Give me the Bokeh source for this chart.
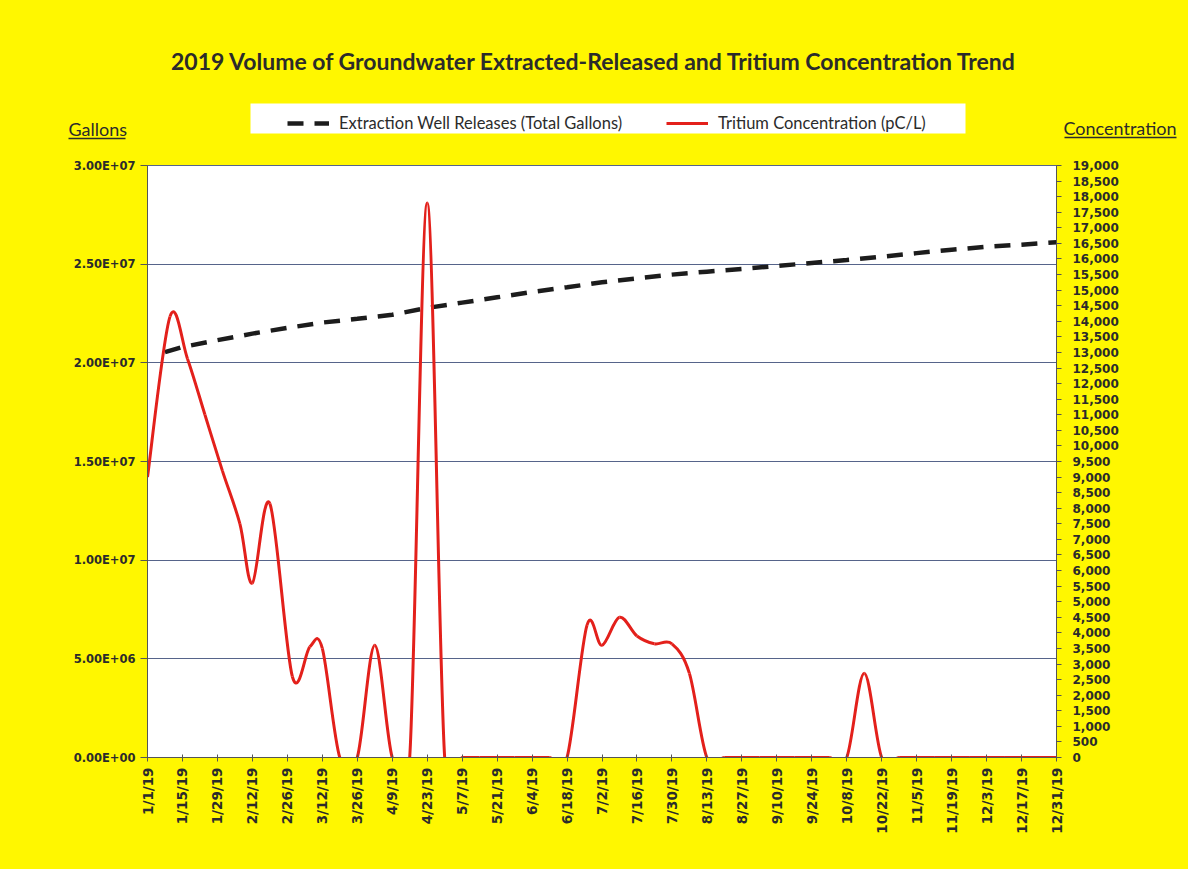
import math
import pandas as pd
from bokeh.plotting import figure
from bokeh.layouts import column
from bokeh.models import (Range1d, LinearAxis, FixedTicker, Legend, LegendItem,
                          ColumnDataSource, NumeralTickFormatter)
from bokeh.core.properties import value
from bokeh.embed import file_html
from bokeh.resources import INLINE

# ---------------- data ----------------
title_text = "2019 Volume of Groundwater Extracted-Released and Tritium Concentration Trend"
release_label = "Extraction Well Releases (Total Gallons)"
tritium_label = "Tritium Concentration (pC/L)"
left_axis_title = "Gallons"
right_axis_title = "Concentration"

release_dates = ["2019-01-08", "2019-01-15", "2019-01-29", "2019-02-12", "2019-02-26", "2019-03-12",
                 "2019-03-26", "2019-04-09", "2019-04-23", "2019-05-07", "2019-05-21", "2019-06-04",
                 "2019-06-18", "2019-07-02", "2019-07-16", "2019-07-30", "2019-08-13", "2019-08-27",
                 "2019-09-10", "2019-09-24", "2019-10-08", "2019-10-22", "2019-11-05", "2019-11-19",
                 "2019-12-03", "2019-12-17", "2019-12-31"]
release_gallons = [20.54e6, 20.80e6, 21.15e6, 21.48e6, 21.77e6, 22.04e6,
                   22.23e6, 22.44e6, 22.78e6, 23.05e6, 23.32e6, 23.59e6,
                   23.83e6, 24.08e6, 24.28e6, 24.47e6, 24.62e6, 24.76e6,
                   24.91e6, 25.06e6, 25.21e6, 25.38e6, 25.56e6, 25.73e6,
                   25.88e6, 25.99e6, 26.11e6]

tritium_dates = ["2019-01-01", "2019-01-10", "2019-01-17", "2019-01-24", "2019-01-31", "2019-02-07",
                 "2019-02-12", "2019-02-19", "2019-02-28", "2019-03-07", "2019-03-12", "2019-03-19",
                 "2019-03-26", "2019-04-02", "2019-04-09", "2019-04-16", "2019-04-23", "2019-04-30",
                 "2019-05-07", "2019-05-14", "2019-05-21", "2019-05-28", "2019-06-04", "2019-06-11",
                 "2019-06-18", "2019-06-26", "2019-07-02", "2019-07-09", "2019-07-16", "2019-07-23",
                 "2019-07-30", "2019-08-06", "2019-08-13", "2019-08-20", "2019-08-27", "2019-09-03",
                 "2019-09-10", "2019-09-17", "2019-09-24", "2019-10-01", "2019-10-08", "2019-10-15",
                 "2019-10-22", "2019-10-29", "2019-11-05", "2019-11-12", "2019-11-19", "2019-11-26",
                 "2019-12-03", "2019-12-10", "2019-12-17", "2019-12-24", "2019-12-31"]
tritium_pcl = [9000, 14150, 12800, 11000, 9200, 7500,
               5600, 8150, 2600, 3550, 3500, 0,
               0, 3600, 0, 0, 17800, 0,
               0, 0, 0, 0, 0, 0,
               0, 4250, 3600, 4500, 3900, 3650,
               3650, 2700, 0, 0, 0, 0,
               0, 0, 0, 0, 0, 2700,
               0, 0, 0, 0, 0, 0,
               0, 0, 0, 0, 0]

x_tick_labels = ["1/1/19", "1/15/19", "1/29/19", "2/12/19", "2/26/19", "3/12/19", "3/26/19",
                 "4/9/19", "4/23/19", "5/7/19", "5/21/19", "6/4/19", "6/18/19", "7/2/19",
                 "7/16/19", "7/30/19", "8/13/19", "8/27/19", "9/10/19", "9/24/19", "10/8/19",
                 "10/22/19", "11/5/19", "11/19/19", "12/3/19", "12/17/19", "12/31/19"]
gallon_ticks = [0, 5e6, 10e6, 15e6, 20e6, 25e6, 30e6]
conc_ticks = list(range(0, 19001, 500))

# ---------------- helpers ----------------
start = pd.Timestamp("2019-01-01")
def to_days(ds, fmt=None):
    return [int((pd.to_datetime(d, format=fmt) - start).days) for d in ds]

rel_x = to_days(release_dates)
tri_x = to_days(tritium_dates)
tick_x = to_days(x_tick_labels, "%m/%d/%y")

# smoothed line (spreadsheet-style "smoothed line") drawn with Bokeh bezier segments
n = len(tri_x)
def P(i):
    i = max(0, min(n - 1, i))
    return tri_x[i], tritium_pcl[i]
seg = dict(x0=[], y0=[], x1=[], y1=[], cx0=[], cy0=[], cx1=[], cy1=[])
for i in range(n - 1):
    xa, ya = P(i - 1); xb, yb = P(i); xc, yc = P(i + 1); xd, yd = P(i + 2)
    seg["x0"].append(xb); seg["y0"].append(yb)
    seg["x1"].append(xc); seg["y1"].append(yc)
    seg["cx0"].append(xb + (xc - xa) / 6.0); seg["cy0"].append(yb + (yc - ya) / 6.0)
    seg["cx1"].append(xc - (xd - xb) / 6.0); seg["cy1"].append(yc - (yd - yb) / 6.0)

# ---------------- styles ----------------
YELLOW = "#FFF700"
RED = "#E3201B"
DASH = "#1C1C1C"
GRID = "#56648A"
AXIS = "#555555"
TXT = "#2B2B2B"
HDR_H = 150
W = 1188
NAN = float("nan")

# ---------------- header (title, axis titles, legend) ----------------
hdr = figure(width=W, height=HDR_H, output_backend="svg", toolbar_location=None,
             x_range=Range1d(0, W), y_range=Range1d(HDR_H, 0),
             x_axis_type=None, y_axis_type=None, min_border=0,
             background_fill_color=YELLOW, border_fill_color=YELLOW, outline_line_color=None)
hdr.frame_align = False
hdr.grid.visible = False

hdr.text(x=[W / 2], y=[60], text=[title_text], text_font=value("Lato"), text_font_style="bold",
         text_font_size="23px", text_align="center", text_baseline="middle", text_color=TXT)
hdr.text(x=[68], y=[128], text=[left_axis_title], text_font=value("Lato"), text_font_size="18px",
         text_align="left", text_baseline="middle", text_color=TXT)
hdr.text(x=[1176], y=[127], text=[right_axis_title], text_font=value("Lato"), text_font_size="18px",
         text_align="right", text_baseline="middle", text_color=TXT)
hdr.segment(x0=[68, 1064], y0=[138, 137], x1=[125, 1176], y1=[138, 137], line_color=TXT, line_width=1.5)

# legend panel
hdr.quad(left=[250], right=[965], top=[103], bottom=[133], fill_color="white", line_color=None)
leg_dash = hdr.line(x=[NAN], y=[NAN], line_color=DASH, line_width=4.5, line_dash="16 11")
leg_red = hdr.line(x=[NAN], y=[NAN], line_color=RED, line_width=3)
legend = Legend(items=[LegendItem(label=release_label, renderers=[leg_dash]),
                       LegendItem(label=tritium_label, renderers=[leg_red])],
                location=(287, HDR_H - 133), orientation="horizontal",
                background_fill_alpha=0, border_line_color=None,
                label_text_font="Lato", label_text_font_size="16.5px", label_text_color=TXT,
                glyph_width=42, glyph_height=20, label_height=20, spacing=44, label_standoff=10,
                padding=5, margin=0)
hdr.add_layout(legend)

# ---------------- main chart ----------------
p = figure(width=W, height=869 - HDR_H, output_backend="svg", toolbar_location=None,
           x_range=Range1d(0, 364), y_range=Range1d(0, 3e7),
           min_border_left=147, min_border_right=132, min_border_top=165 - HDR_H, min_border_bottom=112,
           background_fill_color="white", border_fill_color=YELLOW,
           outline_line_color=GRID, outline_line_width=1)
p.frame_align = False
p.extra_y_ranges = {"conc": Range1d(0, 19000)}

# left axis
ya = p.yaxis[0]
ya.ticker = FixedTicker(ticks=gallon_ticks)
ya.major_label_overrides = {int(v): f"{v:.2E}" for v in gallon_ticks}
ya.minor_tick_line_color = None
ya.major_tick_in = 0
ya.major_tick_out = 7
ya.axis_line_color = AXIS
ya.major_tick_line_color = AXIS
ya.major_label_standoff = 5
ya.major_label_text_font = "DejaVu Sans"
ya.major_label_text_font_style = "bold"
ya.major_label_text_font_size = "11.5px"
ya.major_label_text_color = TXT

# right axis
ra = LinearAxis(y_range_name="conc", ticker=FixedTicker(ticks=conc_ticks),
                formatter=NumeralTickFormatter(format="0,0"))
ra.minor_tick_line_color = None
ra.major_tick_in = 0
ra.major_tick_out = 5
ra.axis_line_color = AXIS
ra.major_tick_line_color = AXIS
ra.major_label_standoff = 11
ra.major_label_text_font = "DejaVu Sans"
ra.major_label_text_font_style = "bold"
ra.major_label_text_font_size = "12px"
ra.major_label_text_color = TXT
p.add_layout(ra, "right")

# bottom axis
xa = p.xaxis[0]
xa.ticker = FixedTicker(ticks=tick_x)
xa.major_label_overrides = {int(t): lab for t, lab in zip(tick_x, x_tick_labels)}
xa.major_label_orientation = math.pi / 2
xa.minor_tick_line_color = None
xa.major_tick_in = 3
xa.major_tick_out = 4
xa.axis_line_color = AXIS
xa.major_tick_line_color = AXIS
xa.major_label_standoff = 6
xa.major_label_text_font = "DejaVu Sans"
xa.major_label_text_font_style = "bold"
xa.major_label_text_font_size = "13.5px"
xa.major_label_text_color = TXT

p.xgrid.visible = False
p.ygrid[0].ticker = FixedTicker(ticks=gallon_ticks)
p.ygrid.grid_line_color = GRID
p.ygrid.grid_line_width = 1

# series
p.line(rel_x, release_gallons, line_color=DASH, line_width=4.5, line_dash="16 11")
p.bezier(x0="x0", y0="y0", x1="x1", y1="y1", cx0="cx0", cy0="cy0", cx1="cx1", cy1="cy1",
         source=ColumnDataSource(seg), line_color=RED, line_width=3, y_range_name="conc")

layout = column(hdr, p, spacing=0)
html = file_html(layout, INLINE)
html = html.replace("</head>", "<style>body{background:%s;}</style></head>" % YELLOW, 1)
open("out.html", "w").write(html)
